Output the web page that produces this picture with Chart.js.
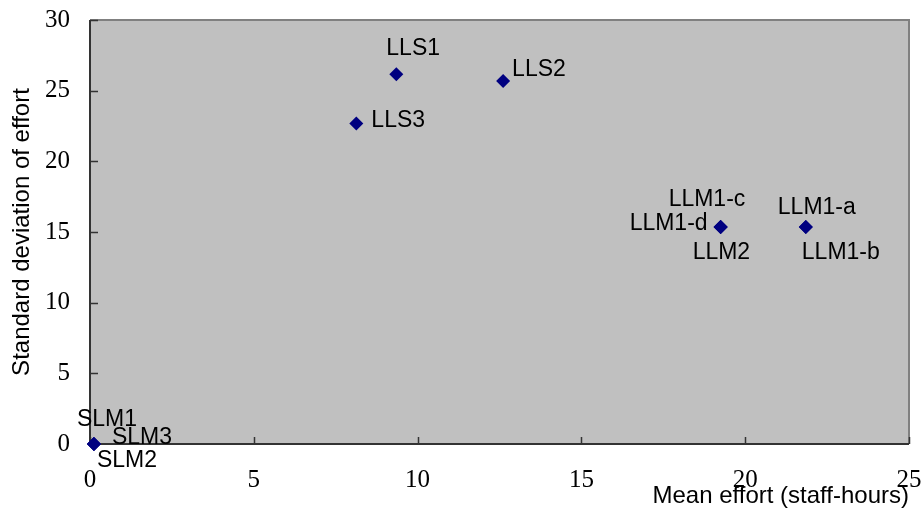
<!DOCTYPE html>
<html>
<head>
<meta charset="utf-8">
<script src="https://cdn.jsdelivr.net/npm/chart.js@4/dist/chart.umd.min.js"></script>
<style>
    html, body { margin: 0; padding: 0; background: #fff; }
    #wrap { width: 923px; height: 515px; }
</style>
</head>
<body>
<div id="wrap"><canvas id="chart" width="923" height="515"></canvas></div>
<script>
// Data (one entry per model, several share a point)
const modelNames = ['LLS1', 'LLS2', 'LLS3', 'LLM1-a', 'LLM1-b', 'LLM1-c', 'LLM1-d', 'LLM2', 'SLM1', 'SLM2', 'SLM3'];
const meanEffort = [9.35, 12.61, 8.13, 21.85, 21.85, 19.25, 19.25, 19.25, 0.12, 0.12, 0.12];
const sdEffort = [26.17, 25.69, 22.68, 15.35, 15.35, 15.35, 15.35, 15.35, 0, 0, 0];
const xTicks = [0, 5, 10, 15, 20, 25];
const yTicks = [0, 5, 10, 15, 20, 25, 30];

// Where each label sits relative to its marker: [dx to text start, dy to baseline]
const labelOffsets = {
    'LLS1': [-10, -19], 'LLS2': [9, -5], 'LLS3': [15, 4],
    'LLM1-a': [-28, -13], 'LLM1-b': [-4, 32], 'LLM1-c': [-52, -21],
    'LLM1-d': [-91, 3], 'LLM2': [-28, 32],
    'SLM1': [-17, -18], 'SLM2': [3, 23], 'SLM3': [18, 0]
};

const frame = {
    id: 'frame',
    beforeDraw(chart) {
        const { ctx, chartArea: a } = chart;
        ctx.save();
        ctx.fillStyle = '#c0c0c0';
        ctx.fillRect(a.left, a.top, a.right - a.left, a.bottom - a.top);
        ctx.restore();
    },
    beforeDatasetsDraw(chart) {
        const { ctx, chartArea: a, scales } = chart;
        ctx.save();
        // top and right edges, lighter
        ctx.strokeStyle = '#808080';
        ctx.lineWidth = 2;
        ctx.beginPath();
        ctx.moveTo(a.left, a.top);
        ctx.lineTo(a.right, a.top);
        ctx.lineTo(a.right, a.bottom);
        ctx.stroke();
        // axes
        ctx.strokeStyle = '#333';
        ctx.beginPath();
        ctx.moveTo(a.left, a.top);
        ctx.lineTo(a.left, a.bottom);
        ctx.lineTo(a.right, a.bottom);
        ctx.stroke();
        // inward tick marks
        ctx.lineWidth = 1.5;
        ctx.beginPath();
        xTicks.forEach(v => {
            const px = Math.round(scales.x.getPixelForValue(v)) + 0.5;
            ctx.moveTo(px, a.bottom);
            ctx.lineTo(px, a.bottom - 7);
        });
        yTicks.forEach(v => {
            const py = Math.round(scales.y.getPixelForValue(v)) + 0.5;
            ctx.moveTo(a.left, py);
            ctx.lineTo(a.left + 8, py);
        });
        ctx.stroke();
        ctx.restore();
    }
};

const pointLabels = {
    id: 'pointLabels',
    afterDatasetsDraw(chart) {
        const { ctx } = chart;
        const meta = chart.getDatasetMeta(0);
        ctx.save();
        ctx.font = "23px 'Liberation Sans', Arial, sans-serif";
        ctx.fillStyle = '#000';
        ctx.textAlign = 'left';
        ctx.textBaseline = 'alphabetic';
        meta.data.forEach((pt, i) => {
            const name = modelNames[i];
            const off = labelOffsets[name] || [8, 0];
            ctx.fillText(name, pt.x + off[0], pt.y + off[1]);
        });
        ctx.restore();
    }
};

const tickFont = { family: "'Liberation Serif', 'Times New Roman', serif", size: 25 };
const titleFont = { family: "'Liberation Sans', Arial, sans-serif", size: 24 };

new Chart(document.getElementById('chart'), {
    type: 'scatter',
    data: {
        datasets: [{
            data: meanEffort.map((x, i) => ({ x: x, y: sdEffort[i] })),
            pointStyle: 'rectRot',
            radius: 7,
            backgroundColor: '#000080',
            borderColor: '#000080',
            borderWidth: 0,
            clip: false
        }]
    },
    options: {
        responsive: false,
        animation: false,
        events: [],
        layout: { padding: { top: 20, right: 14, left: 0, bottom: 0 } },
        plugins: {
            legend: { display: false },
            tooltip: { enabled: false }
        },
        scales: {
            x: {
                type: 'linear',
                min: 0,
                max: 25,
                afterFit(scale) {
                    scale.height = 71;
                    scale.paddingLeft = 0;
                    scale.paddingRight = 0;
                },
                afterBuildTicks(scale) { scale.ticks = xTicks.map(v => ({ value: v })); },
                grid: { display: false, drawTicks: false },
                border: { display: false },
                ticks: { font: tickFont, color: '#000', padding: 21, maxRotation: 0 },
                title: {
                    display: true,
                    text: 'Mean effort (staff-hours)',
                    align: 'end',
                    font: titleFont,
                    color: '#000',
                    padding: { top: 0, bottom: 4 }
                }
            },
            y: {
                type: 'linear',
                min: 0,
                max: 30,
                afterFit(scale) {
                    scale.width = 90;
                    scale.paddingTop = 0;
                    scale.paddingBottom = 0;
                },
                afterBuildTicks(scale) { scale.ticks = yTicks.map(v => ({ value: v })); },
                grid: { display: false, drawTicks: false },
                border: { display: false },
                ticks: { font: tickFont, color: '#000', padding: 20 },
                title: {
                    display: true,
                    text: 'Standard deviation of effort',
                    font: titleFont,
                    color: '#000',
                    padding: { top: 8, bottom: 0 }
                }
            }
        }
    },
    plugins: [frame, pointLabels]
});
</script>
</body>
</html>
